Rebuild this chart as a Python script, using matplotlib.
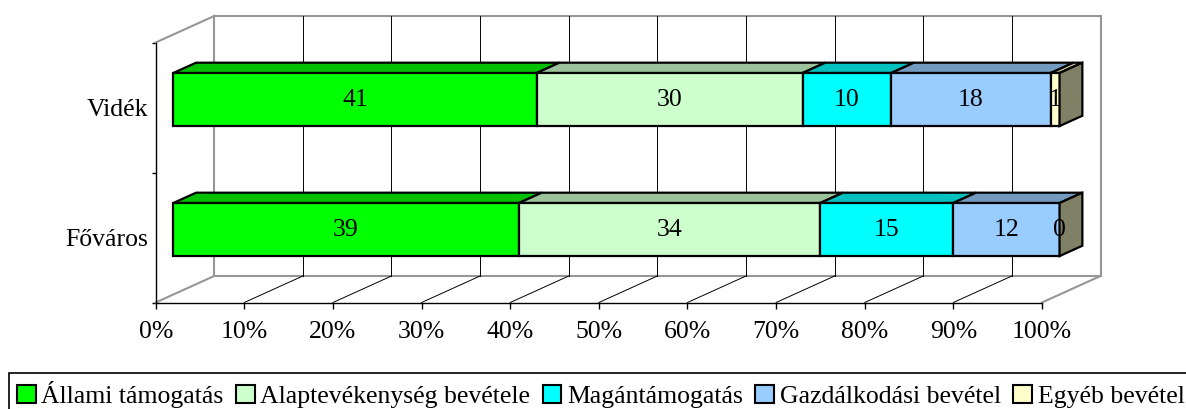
import matplotlib.pyplot as plt
from matplotlib.patches import Polygon, Rectangle

plt.rcParams['font.family'] = ['Liberation Serif', 'DejaVu Serif']

# Adatok
categories = ['Főváros', 'Vidék']
series = ['Állami támogatás', 'Alaptevékenység bevétele', 'Magántámogatás',
          'Gazdálkodási bevétel', 'Egyéb bevétel']
values = {
    'Főváros': [39, 34, 15, 12, 0],
    'Vidék': [41, 30, 10, 18, 1],
}
front_colors = ['#00FF00', '#CCFFCC', '#00FFFF', '#99CCFF', '#FFFFCC']
top_colors = ['#00C000', '#9BC29B', '#00C0C0', '#739ABF', '#C0C09A']
side_color = '#808066'
pct_ticks = list(range(0, 101, 10))
fs = 18.5

W, H = 1186, 409
fig = plt.figure(figsize=(W / 100, H / 100), dpi=100)
ax = fig.add_axes([155.7 / W, 1 - 302.5 / H, (1042 - 155.7) / W, (302.5 - 42.5) / H])
ax.set_xlim(0, 100)
ax.set_ylim(-0.5, 1.5)

# ferde vetites: mely -> eltolas adat-egysegben
DX = 58.5 / ((1042 - 155.7) / 100)
DY = 26.5 / 130


def proj(x, y, d):
    return (x + d * DX, y + d * DY)


wall_c = '#969696'
# hatso fal
back = [proj(0, -0.5, 1), proj(100, -0.5, 1), proj(100, 1.5, 1), proj(0, 1.5, 1)]
ax.add_patch(Polygon(back, closed=True, facecolor='white', edgecolor=wall_c,
                     lw=1.5, clip_on=False, zorder=1))
# racsvonalak
for p in pct_ticks[1:-1]:
    xs, ys = zip(proj(p, -0.5, 1), proj(p, 1.5, 1))
    ax.plot(xs, ys, color='black', lw=0.7, clip_on=False, zorder=1.5)
    xs, ys = zip(proj(p, -0.5, 0), proj(p, -0.5, 1))
    ax.plot(xs, ys, color='black', lw=0.7, clip_on=False, zorder=1.5)
for a, b in [((0, -0.5), (0, -0.5)), ((100, -0.5), (100, -0.5)), ((0, 1.5), (0, 1.5))]:
    xs, ys = zip(proj(a[0], a[1], 0), proj(b[0], b[1], 1))
    ax.plot(xs, ys, color=wall_c, lw=1.5, clip_on=False, zorder=1.6)

# oszlopok
d0, d1 = 0.30, 0.69
h = 0.204
for c, cat in enumerate(categories):
    left = 0
    vals = values[cat]
    for j, v in enumerate(vals):
        if v > 0:
            front = [proj(left, c - h, d0), proj(left + v, c - h, d0),
                     proj(left + v, c + h, d0), proj(left, c + h, d0)]
            top = [proj(left, c + h, d0), proj(left + v, c + h, d0),
                   proj(left + v, c + h, d1), proj(left, c + h, d1)]
            ax.add_patch(Polygon(top, closed=True, facecolor=top_colors[j],
                                 edgecolor='black', lw=1.6, clip_on=False, zorder=3,
                                 joinstyle='miter'))
            ax.add_patch(Polygon(front, closed=True, facecolor=front_colors[j],
                                 edgecolor='black', lw=1.6, clip_on=False, zorder=3,
                                 joinstyle='miter'))
        tx, ty = proj(left + v / 2, c, d0)
        ax.text(tx, ty, str(v), ha='center', va='center', fontsize=fs, zorder=5,
                clip_on=False)
        left += v
    side = [proj(left, c - h, d0), proj(left, c + h, d0),
            proj(left, c + h, d1), proj(left, c - h, d1)]
    ax.add_patch(Polygon(side, closed=True, facecolor=side_color, edgecolor='black',
                         lw=1.6, clip_on=False, zorder=3, joinstyle='miter'))

# tengelyek
for s in ['top', 'right']:
    ax.spines[s].set_visible(False)
for s in ['left', 'bottom']:
    ax.spines[s].set_linewidth(1.0)
    ax.spines[s].set_zorder(2)
ax.set_facecolor('none')
ax.set_xticks(pct_ticks)
ax.set_xticklabels([f'{p}%' for p in pct_ticks])
ax.tick_params(axis='x', direction='out', length=4.5, width=1.0, pad=9, labelsize=fs)
ax.set_yticks(range(len(categories)))
ax.set_yticklabels(categories)
ax.set_yticks([-0.5, 0.5, 1.5], minor=True)
ax.tick_params(axis='y', which='major', length=0, pad=5.5, labelsize=fs)
ax.tick_params(axis='y', which='minor', direction='out', length=3, width=1.0)

# jelmagyarazat
handles = [Rectangle((0, 0), 1, 1, facecolor=fc, edgecolor='black', lw=1.5)
           for fc in front_colors]
leg = fig.legend(handles, series, loc='upper left',
                 bbox_to_anchor=(9.3 / W, 1 - 373 / H), ncol=5, fontsize=fs,
                 frameon=True, fancybox=False, edgecolor='black', framealpha=1,
                 handlelength=0.72, handleheight=0.72, handletextpad=0.23,
                 columnspacing=0.48, borderpad=0.3, borderaxespad=0)
leg.get_frame().set_linewidth(1.2)

fig.savefig('out.png', dpi=100, facecolor='white')
